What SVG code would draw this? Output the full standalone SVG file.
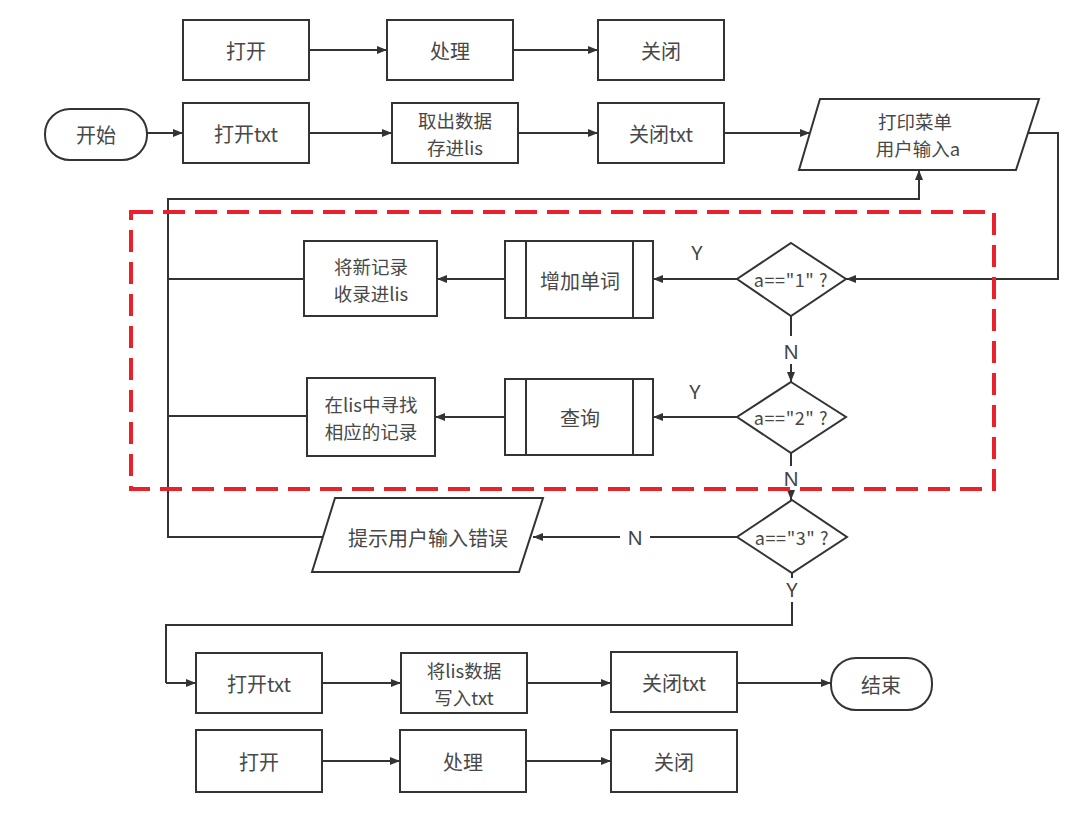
<svg xmlns="http://www.w3.org/2000/svg" width="1080" height="825" viewBox="0 0 1080 825">
<defs>
<marker id="ah" viewBox="0 0 10 10" refX="10" refY="5" markerWidth="10" markerHeight="10" markerUnits="userSpaceOnUse" orient="auto">
<path d="M0,1 L10,5 L0,9 Z" fill="#333"/>
</marker>
<style>
.n{fill:#fff;stroke:#333;stroke-width:2}
.t{font-family:"Noto Sans CJK SC","Noto Sans",sans-serif;font-size:20px;fill:#484848;text-anchor:middle;dominant-baseline:central}
.m{font-size:18.5px}
.d{font-size:18px;letter-spacing:0.6px}
.c{fill:none;stroke:#333;stroke-width:2}
.a{marker-end:url(#ah)}
.lbl{font-family:"Noto Sans","Noto Sans CJK SC",sans-serif;font-size:20px;fill:#444;text-anchor:middle;dominant-baseline:central}
</style>
</defs>
<rect width="1080" height="825" fill="#fff"/>
<g id="connectors">
<path class="c a" d="M309,50 H387"/>
<path class="c a" d="M513,50 H598"/>
<path class="c a" d="M147,133 H183"/>
<path class="c a" d="M309,133 H392"/>
<path class="c a" d="M518,133 H598"/>
<path class="c a" d="M724,133 H810"/>
<path class="c a" d="M1028,133 H1058 V279 H846"/>
<path class="c a" d="M737,279 H653"/>
<path class="c a" d="M505,279 H437"/>
<path class="c" d="M304,279 H168"/>
<path class="c" d="M791,316 V336"/>
<path class="c a" d="M791,364 V382"/>
<path class="c a" d="M737,417 H653"/>
<path class="c a" d="M505,417 H435"/>
<path class="c" d="M307,416 H168"/>
<path class="c" d="M791,453 V466"/>
<path class="c a" d="M791,490 V500"/>
<path class="c" d="M737,537 H650"/>
<path class="c a" d="M620,537 H533"/>
<path class="c a" d="M323,537 H168 V199 H919 V170"/>
<path class="c" d="M792,573 V578"/>
<path class="c" d="M792,602 V625 H166 V683"/>
<path class="c a" d="M166,683 H196"/>
<path class="c a" d="M322,683 H401"/>
<path class="c a" d="M527,683 H611"/>
<path class="c a" d="M737,683 H831"/>
<path class="c a" d="M322,761 H400"/>
<path class="c a" d="M526,761 H611"/>
<text class="lbl" x="697" y="252">Y</text>
<text class="lbl" x="695" y="391">Y</text>
<text class="lbl" x="791" y="351">N</text>
<text class="lbl" x="791" y="478">N</text>
<text class="lbl" x="635" y="537">N</text>
<text class="lbl" x="792" y="589">Y</text>
</g>
<g id="n_open1"><rect class="n" x="183" y="20" width="126" height="60"/><text class="t" x="246" y="50">打开</text></g>
<g id="n_proc1"><rect class="n" x="387" y="20" width="126" height="60"/><text class="t" x="450" y="50">处理</text></g>
<g id="n_close1"><rect class="n" x="598" y="20" width="126" height="60"/><text class="t" x="661" y="50">关闭</text></g>
<g id="n_start"><rect class="n" x="45" y="109" width="102" height="51" rx="25" ry="25"/><text class="t" x="96" y="134">开始</text></g>
<g id="n_opentxt"><rect class="n" x="183" y="103" width="126" height="60"/><text class="t" x="246" y="133">打开txt</text></g>
<g id="n_load"><rect class="n" x="392" y="103" width="126" height="60"/><text class="t m" x="455" y="119.5">取出数据<tspan x="455" dy="27">存进lis</tspan></text></g>
<g id="n_closetxt"><rect class="n" x="598" y="103" width="126" height="60"/><text class="t" x="661" y="133">关闭txt</text></g>
<g id="n_menu"><polygon class="n" points="820,99 1039,99 1016,170 799,170"/><text class="t m" x="915" y="121">打印菜单<tspan x="918" dy="27">用户输入a</tspan></text></g>
<g id="n_d1"><polygon class="n" points="791,243 846,279 791,316 737,279"/><text class="t d" x="791" y="279">a=="1" ?</text></g>
<g id="n_add"><rect class="n" x="505" y="241" width="148" height="77"/><path class="c" d="M526,241 V318 M633,241 V318"/><text class="t" x="580" y="280">增加单词</text></g>
<g id="n_newrec"><rect class="n" x="304" y="241" width="133" height="75"/><text class="t m" x="371" y="265.5">将新记录<tspan x="371" dy="27">收录进lis</tspan></text></g>
<g id="n_d2"><polygon class="n" points="791,382 846,417 791,453 737,417"/><text class="t d" x="791" y="417">a=="2" ?</text></g>
<g id="n_query"><rect class="n" x="505" y="379" width="148" height="76"/><path class="c" d="M526,379 V455 M633,379 V455"/><text class="t" x="580" y="417">查询</text></g>
<g id="n_find"><rect class="n" x="307" y="378" width="128" height="78"/><text class="t m" x="371" y="403.5">在lis中寻找<tspan x="371" dy="27">相应的记录</tspan></text></g>
<g id="n_d3"><polygon class="n" points="792,500 847,537 792,573 737,537"/><text class="t d" x="792" y="537">a=="3" ?</text></g>
<g id="n_err"><polygon class="n" points="335,498 543,498 519,572 312,572"/><text class="t" x="428" y="537">提示用户输入错误</text></g>
<g id="n_opentxt2"><rect class="n" x="196" y="653" width="126" height="60"/><text class="t" x="259" y="683">打开txt</text></g>
<g id="n_write"><rect class="n" x="401" y="653" width="126" height="60"/><text class="t m" x="464" y="669.5">将lis数据<tspan x="464" dy="27">写入txt</tspan></text></g>
<g id="n_closetxt2"><rect class="n" x="611" y="652" width="126" height="60"/><text class="t" x="674" y="682">关闭txt</text></g>
<g id="n_end"><rect class="n" x="831" y="658" width="101" height="52" rx="25" ry="25"/><text class="t" x="881" y="684">结束</text></g>
<g id="n_open2"><rect class="n" x="196" y="730" width="126" height="62"/><text class="t" x="259" y="761">打开</text></g>
<g id="n_proc2"><rect class="n" x="400" y="730" width="126" height="62"/><text class="t" x="463" y="761">处理</text></g>
<g id="n_close2"><rect class="n" x="611" y="730" width="126" height="62"/><text class="t" x="674" y="761">关闭</text></g>
<rect id="highlight" x="131" y="212" width="863" height="277" fill="none" stroke="#e8212b" stroke-width="4" stroke-dasharray="22 10"/>
</svg>
